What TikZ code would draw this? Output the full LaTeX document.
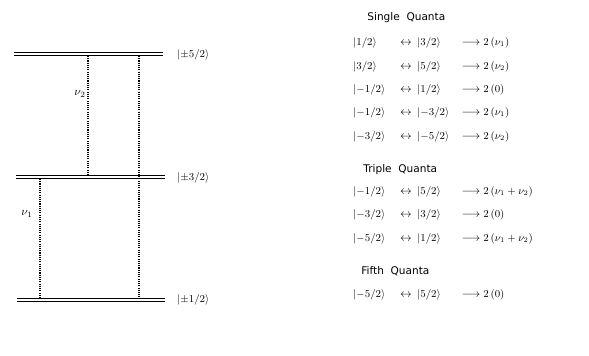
\documentclass[tikz,border=0pt]{standalone}
\usepackage{amsmath}
\usepackage{fontspec}
\setmainfont{DejaVu Sans}
\usetikzlibrary{positioning}

\begin{document}
\begin{tikzpicture}[x=0.03cm, y=-0.03cm,
        level/.style={double, double distance=2.4pt, line width=0.7pt},
        trans/.style={densely dotted, line width=0.9pt},
        ket/.style={anchor=west, inner sep=1pt, font=\small},
        head/.style={anchor=west, inner sep=1pt, font=\small},
    ]
    \useasboundingbox (0,0) rectangle (589,355);
    % energy levels
    \coordinate (l5a) at (14,54);  \coordinate (l5b) at (163,54);
    \coordinate (l3a) at (16,177); \coordinate (l3b) at (165,177);
    \coordinate (l1a) at (17,300); \coordinate (l1b) at (165,300);
    \draw[level] (l5a) -- (l5b);
    \draw[level] (l3a) -- (l3b);
    \draw[level] (l1a) -- (l1b);
    \node[ket] (k5) at (176,55) {$|{\pm}5/2\rangle$};
    \node[ket] (k3) at (176,178) {$|{\pm}3/2\rangle$};
    \node[ket] (k1) at (176,300) {$|{\pm}1/2\rangle$};
    % transitions
    \coordinate (t2u) at (88,56);  \coordinate (t2d) at (88,175);
    \coordinate (t5u) at (139,56); \coordinate (t5d) at (139,298);
    \coordinate (t1u) at (40,179); \coordinate (t1d) at (40,298);
    \draw[trans] (t2u) -- (t2d);
    \draw[trans] (t5u) -- (t5d);
    \draw[trans] (t1u) -- (t1d);
    \node (nu2) at (80,94) {$\nu_2$};
    \node (nu1) at (27,214) {$\nu_1$};
    % selection table
    \node[head] (sq) at (366,18) {Single\ \ Quanta};
    \node[head] (tq) at (362,170) {Triple\ \ Quanta};
    \node[head] (fq) at (360,271) {Fifth\ \ Quanta};
    \foreach \y/\ka/\kb/\res [count=\i] in {
        43/{1/2}/{3/2}/\nu_1, 67/{3/2}/{5/2}/\nu_2, 90/{-1/2}/{1/2}/0,
        113/{-1/2}/{-3/2}/\nu_1, 137/{-3/2}/{-5/2}/\nu_2,
        192/{-1/2}/{5/2}/{\nu_1+\nu_2}, 215/{-3/2}/{3/2}/0,
        239/{-5/2}/{1/2}/{\nu_1+\nu_2}, 295/{-5/2}/{5/2}/0} {
        \node[ket] (a\i) at (352,\y) {$|{\ka}\rangle$};
        \node (p\i) at (406,\y) {$\leftrightarrow$};
        \node[ket] (b\i) at (416,\y) {$|{\kb}\rangle$};
        \node (q\i) at (471,\y) {$\longrightarrow$};
        \node[ket] (r\i) at (482,\y) {$2\,(\res)$};
    }
\end{tikzpicture}
\end{document}
